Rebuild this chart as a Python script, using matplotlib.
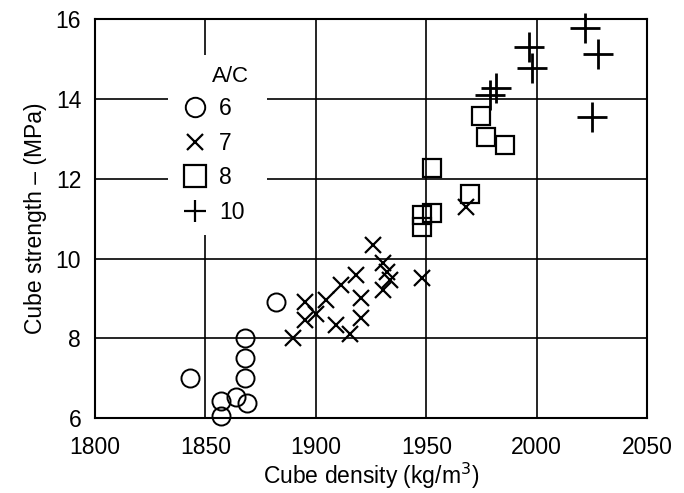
import matplotlib
matplotlib.use("Agg")
import matplotlib.pyplot as plt
from matplotlib.patches import Rectangle
from matplotlib.lines import Line2D

plt.rcParams['font.family'] = ['Liberation Sans', 'DejaVu Sans']

# A/C = 6
ac6_density = [1843, 1857, 1857, 1864, 1869, 1868, 1868, 1868, 1882]
ac6_strength = [7.0, 6.05, 6.43, 6.53, 6.38, 7.0, 7.5, 8.0, 8.9]

# A/C = 7
ac7_density = [1889.5, 1895, 1895, 1900, 1904.7, 1909.2, 1911.5, 1915.3, 1918.3,
               1920.6, 1920.6, 1925.9, 1930.5, 1930.5, 1932, 1933.5, 1947.9, 1968]
ac7_strength = [8.0, 8.46, 8.91, 8.62, 8.96, 8.33, 9.33, 8.12, 9.58,
                9.0, 8.5, 10.34, 9.88, 9.21, 9.67, 9.46, 9.5, 11.29]

# A/C = 8
ac8_density = [1947.9, 1947.9, 1952.4, 1952.4, 1969.9, 1974.7, 1977, 1985.8]
ac8_strength = [10.79, 11.09, 11.13, 12.27, 11.63, 13.57, 13.05, 12.84]

# A/C = 10
ac10_density = [1979, 1981.8, 1996.4, 1997.7, 2022, 2025, 2027.7]
ac10_strength = [14.1, 14.27, 15.3, 14.77, 15.79, 13.55, 15.14]

x_ticks = [1800, 1850, 1900, 1950, 2000, 2050]
y_ticks = [6, 8, 10, 12, 14, 16]

FS = 16.5

fig = plt.figure(figsize=(6.84, 4.93), dpi=100)
ax = fig.add_axes([0.139, 0.152, 0.807, 0.809])

ax.set_xlim(1800, 2050)
ax.set_ylim(6, 16)
ax.set_xticks(x_ticks)
ax.set_yticks(y_ticks)
ax.tick_params(length=0, labelsize=FS)
ax.tick_params(axis='x', pad=13)
ax.tick_params(axis='y', pad=10)
ax.set_axisbelow(True)
ax.grid(True, color='black', linewidth=1.2)
for s in ax.spines.values():
    s.set_linewidth(1.5)

common = dict(linestyle='none', color='black', clip_on=False, zorder=3)
ax.plot(ac6_density, ac6_strength, marker='o', markersize=13, markerfacecolor='none',
        markeredgewidth=1.4, **common)
ax.plot(ac7_density, ac7_strength, marker='x', markersize=12, markeredgewidth=1.6, **common)
ax.plot(ac8_density, ac8_strength, marker='s', markersize=13, markerfacecolor='none',
        markeredgewidth=1.6, **common)
ax.plot(ac10_density, ac10_strength, marker='+', markersize=21, markeredgewidth=2.0, **common)

# white panel behind the key
ax.add_patch(Rectangle((0.132, 0.459), 0.18, 0.451, transform=ax.transAxes,
                       facecolor='white', edgecolor='none', zorder=1))

handles = [
    Line2D([], [], linestyle='none', marker='o', markersize=14, markerfacecolor='none',
           markeredgecolor='black', markeredgewidth=1.4),
    Line2D([], [], linestyle='none', marker='x', markersize=11, markeredgecolor='black',
           markeredgewidth=1.6),
    Line2D([], [], linestyle='none', marker='s', markersize=16, markerfacecolor='none',
           markeredgecolor='black', markeredgewidth=1.6),
    Line2D([], [], linestyle='none', marker='+', markersize=16, markeredgecolor='black',
           markeredgewidth=1.6),
]
leg = ax.legend(handles, ['6', '7', '8', '10'], loc='upper left',
                bbox_to_anchor=(0.14, 0.833), frameon=False, fontsize=FS,
                handlelength=1.0, handletextpad=0.55, labelspacing=0.5,
                borderpad=0.0)
leg.set_zorder(4)
ax.text(0.245, 0.857, 'A/C', transform=ax.transAxes, fontsize=FS - 0.5,
        ha='center', va='center', zorder=4)

ax.set_xlabel('Cube density (kg/m$^3$)', fontsize=FS, labelpad=1)
ax.set_ylabel('Cube strength \u2013 (MPa)', fontsize=FS, labelpad=6)

fig.savefig('out.png', dpi=100)
